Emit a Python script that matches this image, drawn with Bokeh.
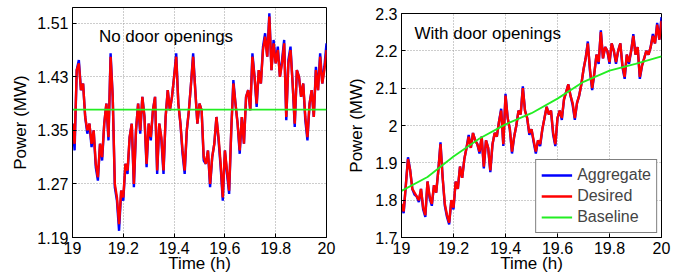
import numpy as np
from bokeh.plotting import figure
from bokeh.layouts import row, column
from bokeh.models import FixedTicker, CustomJSTickFormatter, Label, Legend, LegendItem, Spacer
from bokeh.embed import file_html
from bokeh.resources import INLINE

# ---------------- data ----------------
time_ticks = [19, 19.2, 19.4, 19.6, 19.8, 20]
left_yticks = [1.19, 1.27, 1.35, 1.43, 1.51]
right_yticks = [1.7, 1.8, 1.9, 2.0, 2.1, 2.2, 2.3]

n_samples = 121
time_h = list(np.linspace(19, 20, n_samples))

left_desired = [
    1.36, 1.33, 1.44, 1.45, 1.41, 1.42, 1.37, 1.35, 1.36, 1.33,
    1.35, 1.30, 1.28, 1.33, 1.31, 1.36, 1.39, 1.34, 1.46, 1.40,
    1.27, 1.25, 1.21, 1.26, 1.25, 1.30, 1.29, 1.34, 1.36, 1.27,
    1.35, 1.39, 1.35, 1.40, 1.37, 1.30, 1.36, 1.34, 1.38, 1.40,
    1.29, 1.36, 1.34, 1.29, 1.37, 1.41, 1.38, 1.40, 1.43, 1.46,
    1.39, 1.36, 1.32, 1.29, 1.35, 1.38, 1.42, 1.46, 1.41, 1.36,
    1.39, 1.38, 1.31, 1.30, 1.32, 1.27, 1.31, 1.33, 1.37, 1.34,
    1.30, 1.25, 1.32, 1.29, 1.26, 1.35, 1.42, 1.39, 1.36, 1.32,
    1.37, 1.33, 1.40, 1.41, 1.38, 1.46, 1.43, 1.39, 1.44, 1.42,
    1.47, 1.49, 1.46, 1.52, 1.44, 1.48, 1.45, 1.47, 1.43, 1.45,
    1.48, 1.37, 1.45, 1.47, 1.42, 1.36, 1.44, 1.43, 1.40, 1.42,
    1.37, 1.34, 1.39, 1.41, 1.37, 1.44, 1.41, 1.46, 1.42, 1.44,
    1.47,
]
left_aggregate = [
    1.36, 1.32, 1.44, 1.455, 1.41, 1.42, 1.37, 1.345, 1.36, 1.325,
    1.35, 1.295, 1.275, 1.33, 1.305, 1.36, 1.39, 1.335, 1.465, 1.40,
    1.265, 1.245, 1.20, 1.26, 1.245, 1.30, 1.285, 1.34, 1.36, 1.265,
    1.35, 1.39, 1.345, 1.40, 1.37, 1.295, 1.36, 1.335, 1.38, 1.40,
    1.285, 1.36, 1.335, 1.285, 1.37, 1.41, 1.38, 1.40, 1.43, 1.465,
    1.39, 1.36, 1.315, 1.285, 1.35, 1.38, 1.42, 1.465, 1.41, 1.36,
    1.39, 1.38, 1.305, 1.30, 1.32, 1.265, 1.31, 1.33, 1.37, 1.335,
    1.295, 1.245, 1.32, 1.285, 1.255, 1.35, 1.425, 1.39, 1.36, 1.315,
    1.37, 1.33, 1.40, 1.41, 1.38, 1.465, 1.43, 1.385, 1.44, 1.42,
    1.475, 1.495, 1.46, 1.525, 1.44, 1.485, 1.45, 1.475, 1.43, 1.455,
    1.485, 1.365, 1.455, 1.475, 1.42, 1.355, 1.44, 1.43, 1.40, 1.42,
    1.365, 1.335, 1.39, 1.41, 1.37, 1.445, 1.41, 1.465, 1.42, 1.445,
    1.48,
]
left_baseline_t = [19.0, 20.0]
left_baseline = [1.381, 1.381]

right_desired = [
    1.79, 1.77, 1.84, 1.91, 1.88, 1.83, 1.82, 1.81, 1.80, 1.83,
    1.78, 1.76, 1.85, 1.81, 1.79, 1.84, 1.82, 1.88, 1.95, 1.86,
    1.79, 1.76, 1.74, 1.80, 1.78, 1.85, 1.83, 1.89, 1.86, 1.91,
    1.94, 1.97, 1.94, 1.98, 1.96, 1.95, 1.93, 1.97, 1.89, 1.96,
    1.94, 1.88, 1.95, 1.98, 1.97, 2.01, 2.04, 1.95, 2.08, 2.02,
    1.99, 1.93, 1.97, 2.00, 2.04, 2.03, 2.10, 2.04, 2.02, 1.98,
    1.99, 1.96, 1.93, 1.96, 1.95, 1.99, 2.02, 2.05, 2.03, 2.04,
    1.98, 1.95, 2.02, 2.04, 2.02, 2.07, 2.09, 2.11, 2.08, 2.06,
    2.02, 2.06, 2.08, 2.11, 2.15, 2.18, 2.22, 2.15, 2.10, 2.14,
    2.19, 2.17, 2.25, 2.18, 2.21, 2.20, 2.17, 2.22, 2.20, 2.17,
    2.20, 2.22, 2.16, 2.13, 2.19, 2.17, 2.20, 2.24, 2.19, 2.21,
    2.13, 2.16, 2.18, 2.20, 2.19, 2.21, 2.24, 2.22, 2.27, 2.23,
    2.28,
]
right_aggregate = [
    1.785, 1.765, 1.84, 1.915, 1.88, 1.83, 1.815, 1.81, 1.795, 1.83,
    1.775, 1.755, 1.85, 1.805, 1.785, 1.84, 1.82, 1.88, 1.955, 1.86,
    1.785, 1.755, 1.735, 1.80, 1.775, 1.85, 1.83, 1.89, 1.86, 1.91,
    1.94, 1.975, 1.94, 1.98, 1.96, 1.95, 1.925, 1.97, 1.885, 1.96,
    1.94, 1.875, 1.95, 1.98, 1.97, 2.01, 2.045, 1.945, 2.085, 2.02,
    1.99, 1.925, 1.97, 2.00, 2.04, 2.03, 2.105, 2.04, 2.02, 1.975,
    1.99, 1.955, 1.925, 1.96, 1.945, 1.99, 2.02, 2.05, 2.03, 2.04,
    1.975, 1.945, 2.02, 2.04, 2.015, 2.07, 2.09, 2.11, 2.08, 2.055,
    2.015, 2.06, 2.08, 2.11, 2.15, 2.18, 2.225, 2.145, 2.095, 2.14,
    2.19, 2.165, 2.255, 2.18, 2.21, 2.20, 2.165, 2.22, 2.20, 2.165,
    2.20, 2.22, 2.155, 2.125, 2.19, 2.165, 2.20, 2.245, 2.19, 2.21,
    2.125, 2.16, 2.18, 2.20, 2.19, 2.21, 2.245, 2.22, 2.275, 2.23,
    2.29,
]
right_baseline_t = [19.0, 19.1, 19.2, 19.3, 19.4, 19.5, 19.6, 19.7, 19.8, 19.9, 20.0]
right_baseline = [1.825, 1.862, 1.917, 1.965, 2.003, 2.033, 2.072, 2.117, 2.147, 2.165, 2.185]

FONT = "Liberation Sans"
BLUE = "#0000ff"
RED = "#ff0000"
GREEN = "#22ee22"

fmt = CustomJSTickFormatter(code="return String(Math.round(tick*100)/100);")


def style(p, yticks):
    p.xaxis.ticker = FixedTicker(ticks=time_ticks)
    p.yaxis.ticker = FixedTicker(ticks=yticks)
    p.xaxis.formatter = fmt
    p.yaxis.formatter = fmt
    for ax in (p.xaxis, p.yaxis):
        ax.major_label_text_font = FONT
        ax.major_label_text_font_size = "16px"
        ax.major_label_text_color = "black"
        ax.axis_label_text_font = FONT
        ax.axis_label_text_font_size = "17px"
        ax.axis_label_text_font_style = "normal"
        ax.axis_label_text_color = "black"
        ax.major_tick_in = 4
        ax.major_tick_out = 0
        ax.minor_tick_line_color = None
        ax.axis_line_color = "black"
        ax.major_tick_line_color = "black"
    p.xaxis.major_label_standoff = 4
    p.xaxis.axis_label_standoff = -3
    p.yaxis.major_label_standoff = 4
    p.grid.grid_line_color = "#9a9a9a"
    p.grid.grid_line_dash = "1 2"
    p.grid.grid_line_width = 1
    p.outline_line_color = "black"
    p.outline_line_width = 1
    p.background_fill_color = "white"
    p.border_fill_color = "white"
    p.xaxis.axis_label = "Time (h)"
    p.yaxis.axis_label = "Power (MW)"


# ---------------- left panel ----------------
p1 = figure(width=340, height=280, x_range=(19, 20), y_range=(1.19, 1.5335),
            output_backend="svg", toolbar_location=None, title=None,
            min_border_left=72, min_border_right=14, min_border_top=7, min_border_bottom=43)
style(p1, left_yticks)
p1.line(time_h, left_aggregate, line_color=BLUE, line_width=2.4)
p1.line(time_h, left_desired, line_color=RED, line_width=2.4)
p1.line(left_baseline_t, left_baseline, line_color=GREEN, line_width=1.8)
p1.yaxis.axis_label_standoff = 4
p1.add_layout(Label(x=19.104, y=1.4902, text="No door openings", text_font=FONT,
                    text_font_size="17px", text_baseline="middle", text_color="black"))

# ---------------- right panel ----------------
p2 = figure(width=342, height=274, x_range=(19, 20), y_range=(1.7, 2.3),
            output_backend="svg", toolbar_location=None, title=None,
            min_border_left=61, min_border_right=21, min_border_top=7, min_border_bottom=43)
style(p2, right_yticks)
r_agg = p2.line(time_h, right_aggregate, line_color=BLUE, line_width=2.4)
r_des = p2.line(time_h, right_desired, line_color=RED, line_width=2.4)
r_base = p2.line(right_baseline_t, right_baseline, line_color=GREEN, line_width=1.8)
p2.yaxis.axis_label_standoff = 6
p2.add_layout(Label(x=19.05, y=2.2464, text="With door openings", text_font=FONT,
                    text_font_size="17px", text_baseline="middle", text_color="black"))

legend = Legend(items=[LegendItem(label="Aggregate", renderers=[r_agg]),
                       LegendItem(label="Desired", renderers=[r_des]),
                       LegendItem(label="Baseline", renderers=[r_base])],
                location="bottom_right")
legend.label_text_font = FONT
legend.label_text_font_size = "16px"
legend.glyph_width = 31
legend.glyph_height = 20
legend.label_height = 20
legend.spacing = 1
legend.padding = 5
legend.margin = 4
legend.label_standoff = 5
legend.border_line_color = "black"
legend.border_line_width = 1
legend.background_fill_alpha = 1
p2.add_layout(legend)

layout = row(column(p1), column(Spacer(width=342, height=6), p2), spacing=0)
open("out.html", "w").write(file_html(layout, INLINE))
